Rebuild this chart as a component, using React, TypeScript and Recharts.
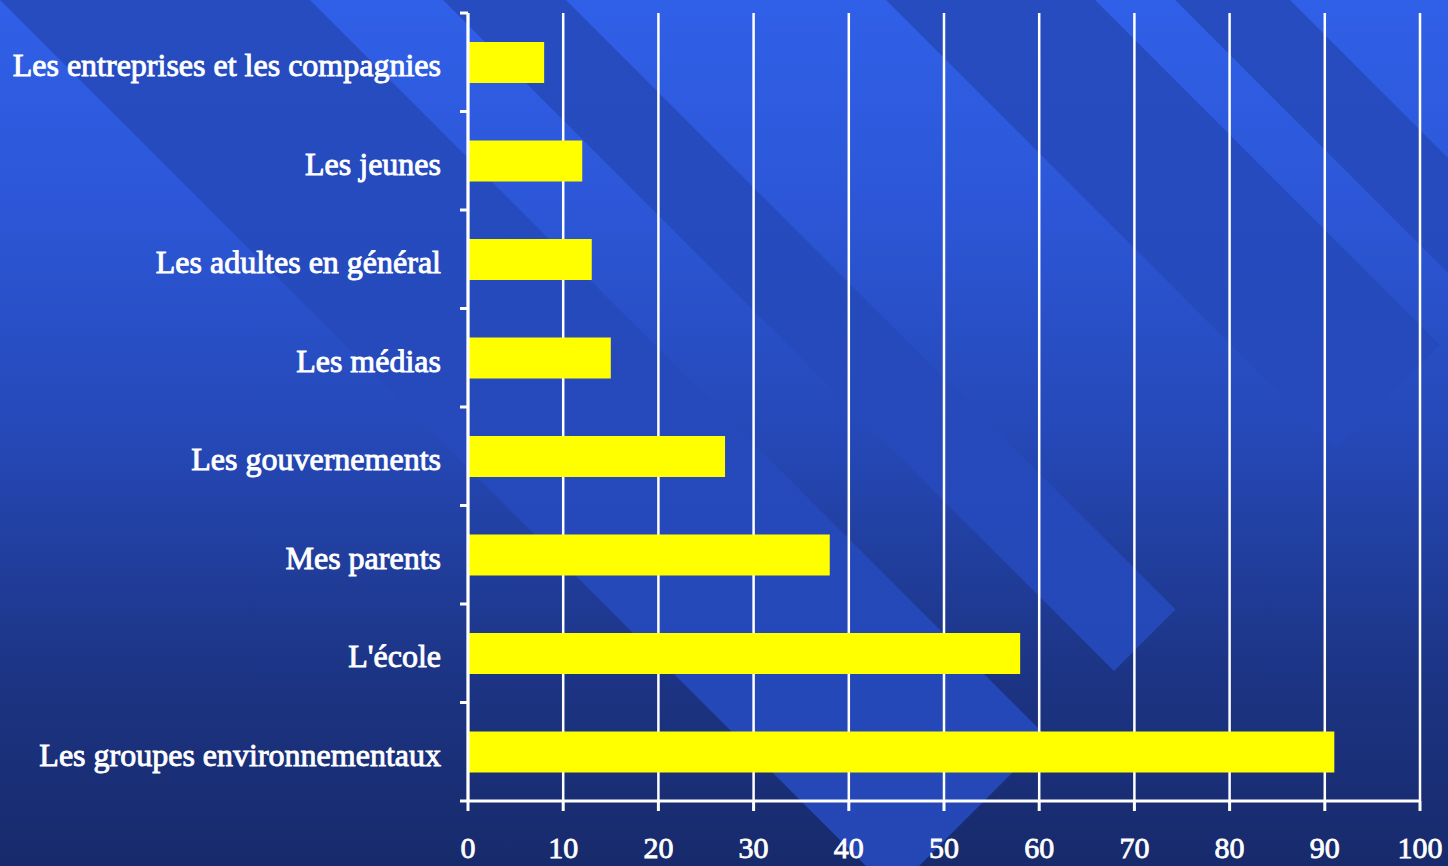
import React from "react";
import { BarChart, Bar, XAxis, YAxis, CartesianGrid } from "recharts";

const categories = [
  "Les entreprises et les compagnies",
  "Les jeunes",
  "Les adultes en général",
  "Les médias",
  "Les gouvernements",
  "Mes parents",
  "L'école",
  "Les groupes environnementaux",
];
const values = [8, 12, 13, 15, 27, 38, 58, 91];
const xTicks = [0, 10, 20, 30, 40, 50, 60, 70, 80, 90, 100];

const data = categories.map((name, i) => ({ name, value: values[i] }));

const W = 1448;
const H = 866;
const MARGIN = { top: 13, right: 28, bottom: 5, left: 0 };
const X_AXIS_H = 60;
const Y_AXIS_W = 468;
const PLOT_H = H - MARGIN.top - MARGIN.bottom - X_AXIS_H;
const BAND = PLOT_H / categories.length;
const FONT = "'Liberation Serif', 'Times New Roman', serif";

// decorative background stripes (x - y ranges), cut by line x + y = CUT
const stripes = [
  [0, 310],
  [443, 566],
  [886, 1095],
  [1175, 1290],
];
const CUT = 1785;

function Background() {
  return (
    <svg width={W} height={H} style={{ position: "absolute", left: 0, top: 0 }}>
      <defs>
        <linearGradient id="bg" x1="0" y1="0" x2="0" y2="1">
          <stop offset="0" stopColor="#3060e8" />
          <stop offset="0.25" stopColor="#2c56d6" />
          <stop offset="0.51" stopColor="#2548b6" />
          <stop offset="0.78" stopColor="#1c3484" />
          <stop offset="1" stopColor="#172a6b" />
        </linearGradient>
        <linearGradient id="st" x1="0" y1="0" x2="0" y2={H} gradientUnits="userSpaceOnUse">
          <stop offset="0" stopColor="#264cc0" />
          <stop offset="1" stopColor="#2547b6" />
        </linearGradient>
      </defs>
      <rect x={0} y={0} width={W} height={H} fill="url(#bg)" />
      {stripes.map(([d1, d2], i) => (
        <polygon
          key={i}
          fill="url(#st)"
          points={`${d1},0 ${d2},0 ${(CUT + d2) / 2},${(CUT - d2) / 2} ${(CUT + d1) / 2},${(CUT - d1) / 2}`}
        />
      ))}
    </svg>
  );
}

function CatTick(props: any) {
  const { x, y, payload, index } = props;
  const half = BAND / 2;
  return (
    <g>
      <text
        x={x - 27}
        y={y}
        dy={14}
        textAnchor="end"
        fill="#ffffff"
        stroke="#ffffff"
        strokeWidth={0.9}
        fontSize={32}
        fontFamily={FONT}
      >
        {payload.value}
      </text>
      {index === 0 && (
        <line x1={x - 8} x2={x} y1={y - half} y2={y - half} stroke="#ffffff" strokeWidth={3} />
      )}
      <line x1={x - 8} x2={x} y1={y + half} y2={y + half} stroke="#ffffff" strokeWidth={3} />
    </g>
  );
}

export default function App() {
  return (
    <div style={{ position: "absolute", left: 0, top: 0, width: W, height: H, overflow: "hidden" }}>
      <Background />
      <div style={{ position: "absolute", left: 0, top: 0 }}>
        <BarChart width={W} height={H} layout="vertical" data={data} margin={MARGIN}>
          <CartesianGrid horizontal={false} stroke="#ffffff" strokeWidth={2.5} />
          <XAxis
            type="number"
            domain={[0, 100]}
            ticks={xTicks}
            interval={0}
            height={X_AXIS_H}
            axisLine={{ stroke: "#ffffff", strokeWidth: 3 }}
            tickLine={{ stroke: "#ffffff", strokeWidth: 3 }}
            tickSize={10}
            tickMargin={26}
            tick={{ fill: "#ffffff", stroke: "#ffffff", strokeWidth: 0.8, fontSize: 30, fontFamily: FONT }}
          />
          <YAxis
            type="category"
            dataKey="name"
            width={Y_AXIS_W}
            interval={0}
            axisLine={{ stroke: "#ffffff", strokeWidth: 3 }}
            tickLine={false}
            tickSize={0}
            tickMargin={0}
            tick={<CatTick />}
          />
          <Bar dataKey="value" fill="#ffff00" barSize={41} isAnimationActive={false} />
        </BarChart>
      </div>
    </div>
  );
}
